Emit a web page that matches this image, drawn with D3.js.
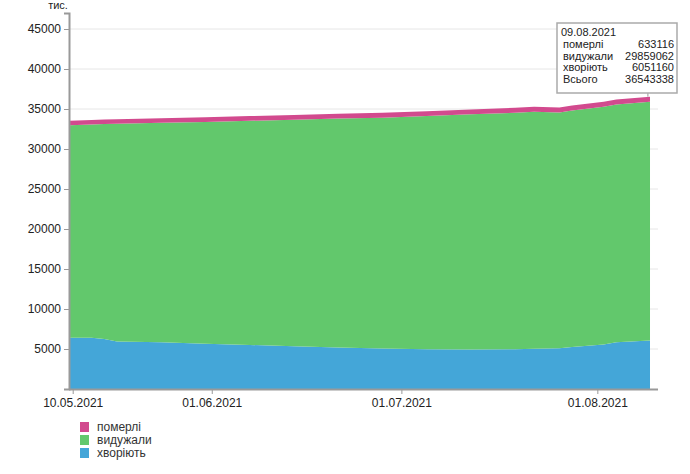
<!DOCTYPE html>
<html><head><meta charset="utf-8">
<script src="https://cdn.jsdelivr.net/npm/d3@7"></script>
<style>
body{margin:0;background:#fff;}
svg{font-family:"Liberation Sans",Arial,sans-serif;}
</style></head>
<body><div id="chart"></div>
<script>
// Data (thousands)
const dates = ["10.05.2021","13.05.2021","15.05.2021","17.05.2021","24.05.2021","31.05.2021","07.06.2021","14.06.2021","21.06.2021","28.06.2021","05.07.2021","12.07.2021","19.07.2021","22.07.2021","26.07.2021","28.07.2021","02.08.2021","04.08.2021","09.08.2021"];
const totals = [33540,33620,33680,33720,33840,33960,34120,34250,34400,34520,34720,34950,35150,35270,35200,35450,35900,36200,36543.338];
const active = [6400,6420,6250,5950,5830,5650,5500,5350,5180,5050,4980,4950,4980,5030,5100,5250,5550,5850,6051.160];
const deaths = [560,563,565,567,573,580,586,592,598,603,608,613,618,620,622,624,628,630,633.116];
const seriesNames = ["хворіють","видужали","померлі"];
const seriesColors = ["#44a6d8","#62c86c","#d24a8e"];
const yTicks = [0,5000,10000,15000,20000,25000,30000,35000,40000,45000];
const xTickLabels = ["10.05.2021","01.06.2021","01.07.2021","01.08.2021"];
const tooltipDate = "09.08.2021";
const tooltipRows = [["померлі","633116"],["видужали","29859062"],["хворіють","6051160"],["Всього","36543338"]];

const parse = d3.timeParse("%d.%m.%Y");
const data = dates.map((d,i)=>({date:parse(d), a:active[i], d:deaths[i], r:totals[i]-active[i]-deaths[i]}));

const W=690,H=474;
const svg=d3.select("#chart").append("svg").attr("width",W).attr("height",H);

const x=d3.scaleTime().domain([parse("10.05.2021"),parse("09.08.2021")]).range([72.7,647.9]);
const y=d3.scaleLinear().domain([0,47000]).range([389,13]);

// grid
svg.append("g").selectAll("line").data(yTicks.filter(t=>t>0)).join("line")
 .attr("x1",69).attr("x2",658).attr("y1",d=>y(d)).attr("y2",d=>y(d))
 .attr("stroke","#e6e6e6").attr("stroke-width",1);

const stack=d3.stack().keys(["a","r","d"]);
const layers=stack(data);
const n=data.length;
const xd=(d,i)=> x(d3.timeHour.offset(d.data.date, i===0?-12:(i===n-1?8:0)));
const area=d3.area().x(xd).y0(d=>y(d[0])).y1(d=>y(d[1]));
svg.append("g").selectAll("path").data(layers).join("path")
 .attr("d",area).attr("fill",(d,i)=>seriesColors[i]);

// y axis
const yAxis=d3.axisLeft(y).tickValues(yTicks).tickFormat(d=>d===0?"":d).tickSize(5).tickPadding(3);
const gy=svg.append("g").attr("transform","translate(69,0)").call(yAxis);
gy.select(".domain").attr("stroke","#999").attr("stroke-width",2);
gy.selectAll(".tick line").attr("stroke","#999");
gy.selectAll("text").attr("font-size",12).attr("fill","#222").attr("font-family","Liberation Sans, Arial, sans-serif");

// x axis
const xAxis=d3.axisBottom(x).tickValues(xTickLabels.map(parse)).tickFormat(d3.timeFormat("%d.%m.%Y")).tickSize(5).tickPadding(4).tickSizeOuter(0);
const gx=svg.append("g").attr("transform","translate(0,389)").call(xAxis);
gx.select(".domain").attr("d","M69,0.5H658").attr("stroke","#999").attr("stroke-width",2);
gx.selectAll(".tick line").attr("stroke","#999");
gx.selectAll("text").attr("font-size",12).attr("fill","#222").attr("font-family","Liberation Sans, Arial, sans-serif");

svg.append("text").attr("x",58).attr("y",9).attr("text-anchor","middle").attr("font-size",11).attr("fill","#222").text("тис.");

// legend
const leg=svg.append("g");
const legOrder=[2,1,0];
legOrder.forEach((si,k)=>{
  leg.append("rect").attr("x",80).attr("y",422+k*13).attr("width",9).attr("height",10).attr("fill",seriesColors[si]);
  leg.append("text").attr("x",97).attr("y",431+k*13).attr("font-size",12).attr("fill","#333").text(seriesNames[si]);
});

// tooltip
const last=data[n-1];
const tx=x(last.date);
svg.append("line").attr("x1",tx).attr("x2",tx).attr("y1",93).attr("y2",y(totals[n-1])).attr("stroke","#999").attr("stroke-width",1);
const tt=svg.append("g");
tt.append("rect").attr("x",557).attr("y",23).attr("width",120).attr("height",70).attr("fill","#fff").attr("stroke","#aaa").attr("stroke-width",1.5);
tt.append("text").attr("x",561).attr("y",36).attr("font-size",11).attr("fill","#222").text(tooltipDate);
tooltipRows.forEach((r,k)=>{
  tt.append("text").attr("x",563).attr("y",48+k*11.5).attr("font-size",11).attr("fill","#222").text(r[0]);
  tt.append("text").attr("x",674).attr("y",48+k*11.5).attr("text-anchor","end").attr("font-size",11).attr("fill","#222").text(r[1]);
});
</script></body></html>
